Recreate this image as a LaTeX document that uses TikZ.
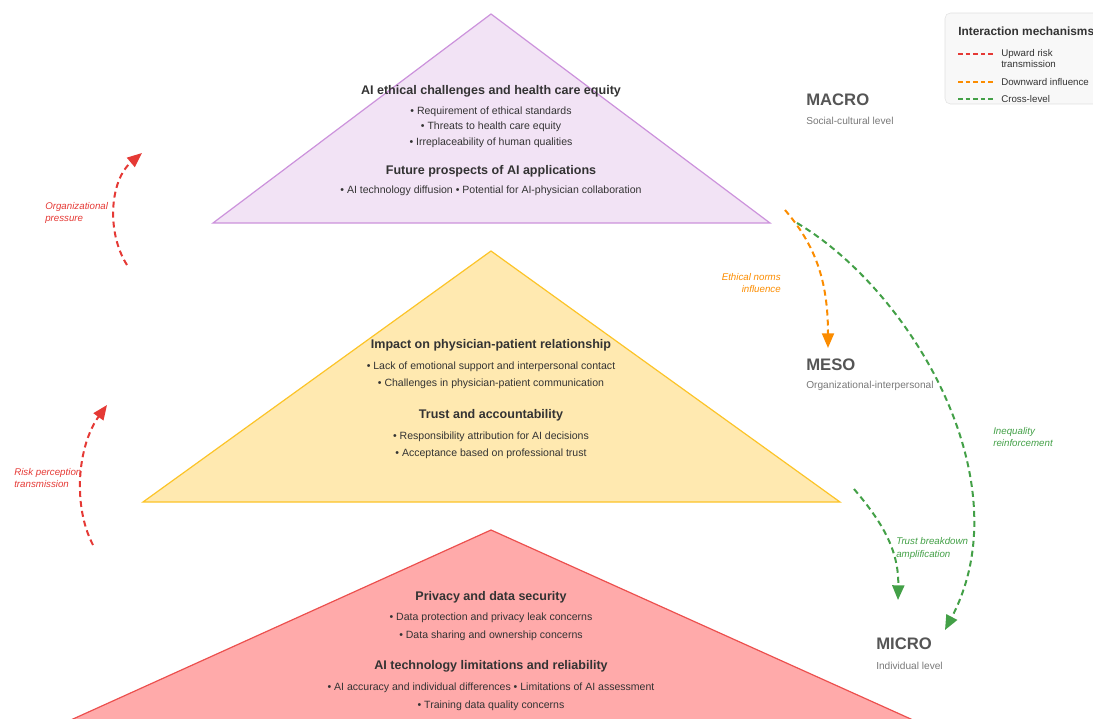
\documentclass[tikz,border=0pt]{standalone}
\usepackage{fontspec}
\setmainfont{Liberation Sans}
\usetikzlibrary{arrows.meta}
\usetikzlibrary{positioning}

\definecolor{macrofill}{RGB}{242,227,245}
\definecolor{macroline}{RGB}{204,146,220}
\definecolor{mesofill}{RGB}{255,233,176}
\definecolor{mesoline}{RGB}{252,196,40}
\definecolor{microfill}{RGB}{255,170,170}
\definecolor{microline}{RGB}{236,80,78}
\definecolor{upred}{RGB}{229,57,53}
\definecolor{downorange}{RGB}{251,140,0}
\definecolor{crossgreen}{RGB}{67,160,71}
\definecolor{textdark}{RGB}{51,51,51}
\definecolor{levelgray}{RGB}{85,85,85}
\definecolor{subgray}{RGB}{120,120,120}
\definecolor{legendbg}{RGB}{248,248,248}
\definecolor{legendline}{RGB}{225,225,225}

\begin{document}
\begin{tikzpicture}[x=0.75pt,y=-0.75pt,
	heading/.style={font=\fontsize{9.4}{11}\selectfont\bfseries,text=textdark,inner sep=0pt},
	bullets/.style={font=\fontsize{7.9}{#1}\selectfont,text=textdark,align=center,inner sep=0pt},
	level/.style={font=\fontsize{12.5}{14}\selectfont\bfseries,text=levelgray,anchor=west,inner sep=0pt},
	levelsub/.style={font=\fontsize{7.6}{9}\selectfont,text=subgray,anchor=west,inner sep=0pt},
	flow/.style={line width=1.5pt,dash pattern=on 4.5pt off 3pt,-{Triangle[length=11pt,width=9pt]}},
	flowlabel/.style={font=\fontsize{7.3}{9.4}\selectfont\itshape,inner sep=0pt},
	legendtext/.style={font=\fontsize{7.3}{8.2}\selectfont,text=textdark,anchor=west,inner sep=0pt},
	legendline/.style={line width=0.9pt,dash pattern=on 3.5pt off 2.2pt}]
	\clip (0,0) rectangle (1093,718);

	% the three levels
	\coordinate (macro top) at (491,14);
	\coordinate (meso top) at (491,251);
	\coordinate (micro top) at (491,530);
	\filldraw[fill=macrofill,draw=macroline,line width=0.9pt] (macro top) -- (770,223) -- (213,223) -- cycle;
	\filldraw[fill=mesofill,draw=mesoline,line width=0.9pt] (meso top) -- (840,502) -- (143,502) -- cycle;
	\filldraw[fill=microfill,draw=microline,line width=0.9pt] (micro top) -- (953,738) -- (31,738) -- cycle;

	\node[heading] (ethics) at (491,91) {AI ethical challenges and health care equity};
	\node[bullets=11.6pt] (ethics list) at (491,127) {• Requirement of ethical standards\\ • Threats to health care equity\\ • Irreplaceability of human qualities};
	\node[heading] (prospects) at (491,171) {Future prospects of AI applications};
	\node[bullets=11.6pt] (prospects list) at (491,191) {• AI technology diffusion • Potential for AI-physician collaboration};

	\node[heading] (relationship) at (491,345) {Impact on physician-patient relationship};
	\node[bullets=12.75pt] (relationship list) at (491,375) {• Lack of emotional support and interpersonal contact\\ • Challenges in physician-patient communication};
	\node[heading] (trust) at (491,415) {Trust and accountability};
	\node[bullets=12.75pt] (trust list) at (491,445) {• Responsibility attribution for AI decisions\\ • Acceptance based on professional trust};

	\node[heading] (privacy) at (491,597) {Privacy and data security};
	\node[bullets=13.5pt] (privacy list) at (491,627) {• Data protection and privacy leak concerns\\ • Data sharing and ownership concerns};
	\node[heading] (limits) at (491,666) {AI technology limitations and reliability};
	\node[bullets=13.5pt] (limits list) at (491,697) {• AI accuracy and individual differences • Limitations of AI assessment\\ • Training data quality concerns};

	% level names
	\node[level] (macro) at (806,100) {MACRO};
	\node[levelsub] (macro sub) at (806,120.5) {Social-cultural level};
	\node[level] (meso) at (806,365) {MESO};
	\node[levelsub] (meso sub) at (806,385.5) {Organizational-interpersonal};
	\node[level] (micro) at (876,644) {MICRO};
	\node[levelsub] (micro sub) at (876,665.5) {Individual level};

	% interaction arrows
	\coordinate (pressure start) at (127,265);
	\coordinate (pressure end) at (142,153);
	\draw[flow,upred] (pressure start) .. controls (106,232) and (110,180) .. (pressure end);
	\node[flowlabel,text=upred,align=left,anchor=west] (pressure) at (45,213) {Organizational\\pressure};

	\coordinate (risk start) at (93,545);
	\coordinate (risk end) at (107,405);
	\draw[flow,upred] (risk start) .. controls (72,505) and (78,445) .. (risk end);
	\node[flowlabel,text=upred,align=left,anchor=west] (risk) at (14,478) {Risk perception\\transmission};

	\coordinate (norms start) at (785,210);
	\coordinate (norms end) at (828,348);
	\draw[flow,downorange] (norms start) .. controls (815,245) and (828,280) .. (norms end);
	\node[flowlabel,text=downorange,align=right,anchor=east] (norms) at (781,283) {Ethical norms\\influence};

	\coordinate (inequality start) at (797,223);
	\coordinate (inequality end) at (945,630);
	\draw[flow,crossgreen] (inequality start) .. controls (910,290) and (1024,480) .. (inequality end);
	\node[flowlabel,text=crossgreen,align=left,anchor=west] (inequality) at (993,437) {Inequality\\reinforcement};

	\coordinate (breakdown start) at (854,489);
	\coordinate (breakdown end) at (898,600);
	\draw[flow,crossgreen] (breakdown start) .. controls (882,522) and (899,550) .. (breakdown end);
	\node[flowlabel,text=crossgreen,align=left,anchor=west] (breakdown) at (896,548.5) {Trust breakdown\\amplification};

	% legend
	\filldraw[fill=legendbg,draw=legendline,rounded corners=4pt] (945,13) rectangle (1110,104);
	\begin{scope}
		\clip[rounded corners=4pt] (945,13) rectangle (1110,104);
		\node[font=\fontsize{8.9}{10}\selectfont\bfseries,text=textdark,anchor=west,inner sep=0pt] (legend title) at (958,31) {Interaction mechanisms};
		\coordinate (up a) at (958,54);
		\coordinate (up b) at (993,54);
		\draw[legendline,upred] (up a) -- (up b);
		\node[legendtext,align=left,anchor=north west] (up text) at (1001,49) {Upward risk\\transmission};
		\coordinate (down a) at (958,82);
		\coordinate (down b) at (993,82);
		\draw[legendline,downorange] (down a) -- (down b);
		\node[legendtext] (down text) at (1001,82) {Downward influence};
		\coordinate (cross a) at (958,99);
		\coordinate (cross b) at (993,99);
		\draw[legendline,crossgreen] (cross a) -- (cross b);
		\node[legendtext] (cross text) at (1001,99) {Cross-level};
	\end{scope}
\end{tikzpicture}
\end{document}
